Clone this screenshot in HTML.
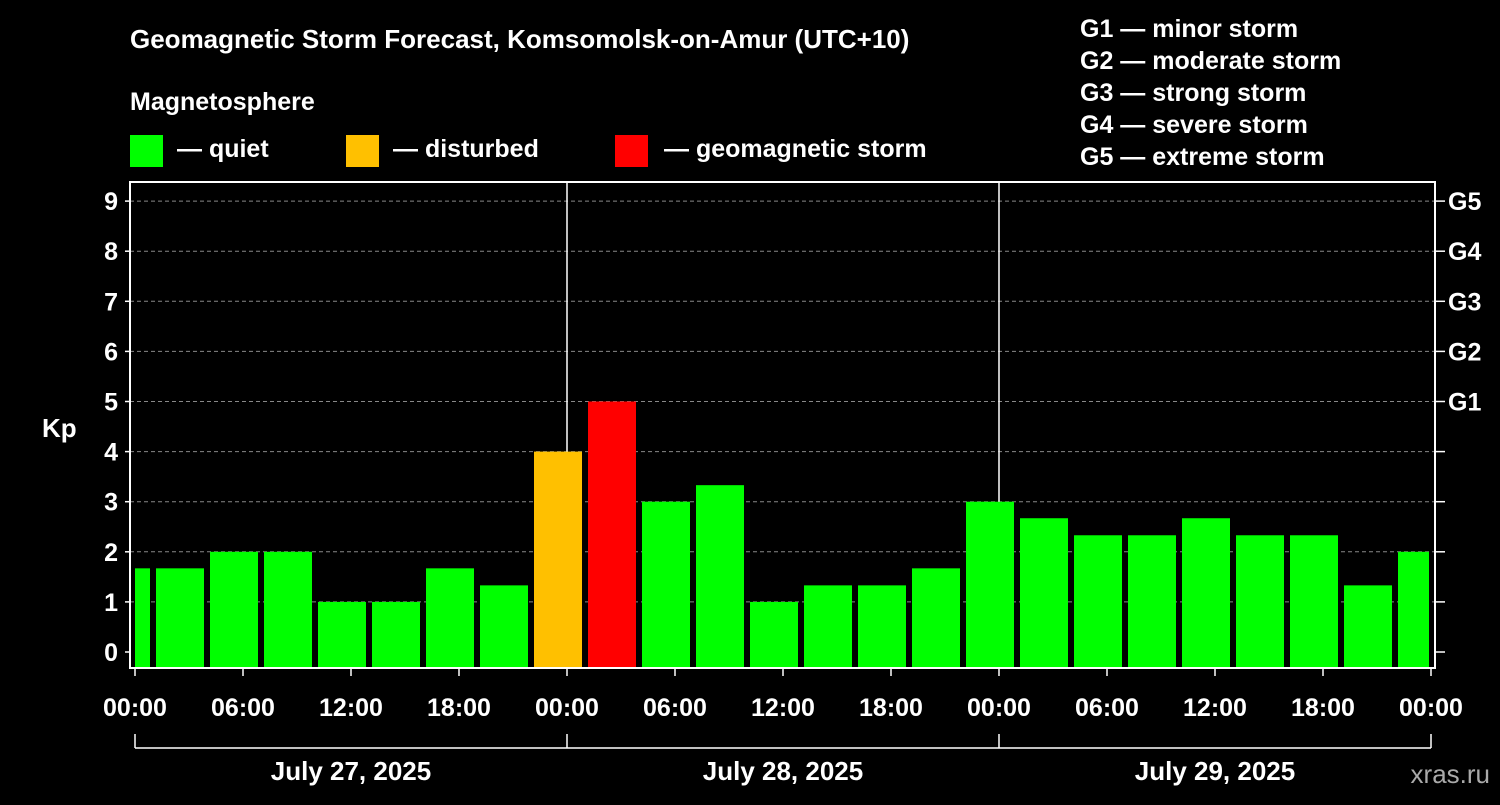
<!DOCTYPE html>
<html><head><meta charset="utf-8"><style>
body{margin:0;background:#000;}
svg text{font-family:"Liberation Sans",Arial,sans-serif;font-weight:bold;fill:#fff;}
</style></head><body>
<svg id="c" width="1500" height="800" viewBox="0 0 1500 800">
<rect width="1500" height="800" fill="#000"/>
<text x="130" y="48" font-size="26">Geomagnetic Storm Forecast, Komsomolsk-on-Amur (UTC+10)</text>
<text x="130" y="110" font-size="25">Magnetosphere</text>
<g><rect x="130" y="135" width="33" height="32" fill="#00ff00"/><text x="177" y="157" font-size="25">— quiet</text></g>
<g><rect x="346" y="135" width="33" height="32" fill="#ffc000"/><text x="393" y="157" font-size="25">— disturbed</text></g>
<g><rect x="615" y="135" width="33" height="32" fill="#ff0000"/><text x="664" y="157" font-size="25">— geomagnetic storm</text></g>
<g font-size="25">
<text x="1080" y="37" font-size="25">G1 — minor storm</text>
<text x="1080" y="69" font-size="25">G2 — moderate storm</text>
<text x="1080" y="101" font-size="25">G3 — strong storm</text>
<text x="1080" y="133" font-size="25">G4 — severe storm</text>
<text x="1080" y="165" font-size="25">G5 — extreme storm</text>
</g>
<text x="42" y="437" font-size="26">Kp</text>
<text x="1490" y="783" font-size="26" text-anchor="end" fill="#bbb" style="fill:#aaa;font-weight:normal">xras.ru</text>
<g id="plot"></g>
</svg>
<script>
const kpValues=[1.67,1.67,2,2,1,1,1.67,1.33,4,5,3,3.33,1,1.33,1.33,1.67,3,2.67,2.33,2.33,2.67,2.33,2.33,1.33,2];
const yTicks=[0,1,2,3,4,5,6,7,8,9];
const gLabels=["G1","G2","G3","G4","G5"];
const xTickLabels=["00:00","06:00","12:00","18:00","00:00","06:00","12:00","18:00","00:00","06:00","12:00","18:00","00:00"];
const dayLabels=["July 27, 2025","July 28, 2025","July 29, 2025"];
const NS="http://www.w3.org/2000/svg";
const g=document.getElementById('plot');
const L=130,R=1435,T=182,B=668,X0=135,PXH=18;
const y=v=>652-50.1*v;
const x=h=>X0+PXH*h;
function el(t,a,p){const e=document.createElementNS(NS,t);for(const k in a)e.setAttribute(k,a[k]);(p||g).appendChild(e);return e;}
// grid
yTicks.forEach(v=>{if(v>0){const l=el('line',{x1:L,x2:R,y1:y(v),y2:y(v),stroke:'#888','stroke-dasharray':'4,3','stroke-width':1});

}
const t=el('text',{x:118,y:y(v)+9,'font-size':25,'text-anchor':'end'});t.textContent=v;


const tk=el('line',{x1:R,x2:R+10,y1:y(v),y2:y(v),stroke:'#fff','stroke-width':1.5});


const tk2=el('line',{x1:L-5,x2:L,y1:y(v),y2:y(v),stroke:'#fff','stroke-width':1.5});


});
gLabels.forEach((s,i)=>{const t=el('text',{x:1448,y:y(5+i)+9,'font-size':25});t.textContent=s;

});
// day separators
[24,48].forEach(h=>{const l=el('line',{x1:x(h),x2:x(h),y1:T,y2:B,stroke:'#fff','stroke-width':1.5});

});
// bars
el('clipPath',{id:'cp'}).appendChild(document.createElementNS(NS,'rect'));
const cr=document.querySelector('#cp rect');['x','y','width','height'].forEach((k,i)=>cr.setAttribute(k,[X0,T,1429-X0,B-T][i]));
kpValues.forEach((v,i)=>{const c=x(-0.5+3*i);const col=v>=5?'#ff0000':v>=4?'#ffc000':'#00ff00';
const b=el('rect',{x:c-24,width:48,y:y(v),height:B-y(v),fill:col,'clip-path':'url(#cp)'});

});
// frame
const f=el('rect',{x:L,y:T,width:R-L,height:B-T,fill:'none',stroke:'#fff','stroke-width':2});


// x ticks
xTickLabels.forEach((s,i)=>{const h=i*6;
const tk=el('line',{x1:x(h),x2:x(h),y1:B,y2:B+8,stroke:'#fff','stroke-width':1.5});


const t=el('text',{x:x(h),y:716,'font-size':25,'text-anchor':'middle'});t.textContent=s;

});
const br=el('line',{x1:x(0),x2:x(72),y1:748,y2:748,stroke:'#fff','stroke-width':1.5});


[0,24,48,72].forEach(h=>{const l=el('line',{x1:x(h),x2:x(h),y1:734,y2:748,stroke:'#fff','stroke-width':1.5});

});
dayLabels.forEach((s,i)=>{const t=el('text',{x:x(12+24*i),y:780,'font-size':26,'text-anchor':'middle'});t.textContent=s;

});
</script>
</body></html>
